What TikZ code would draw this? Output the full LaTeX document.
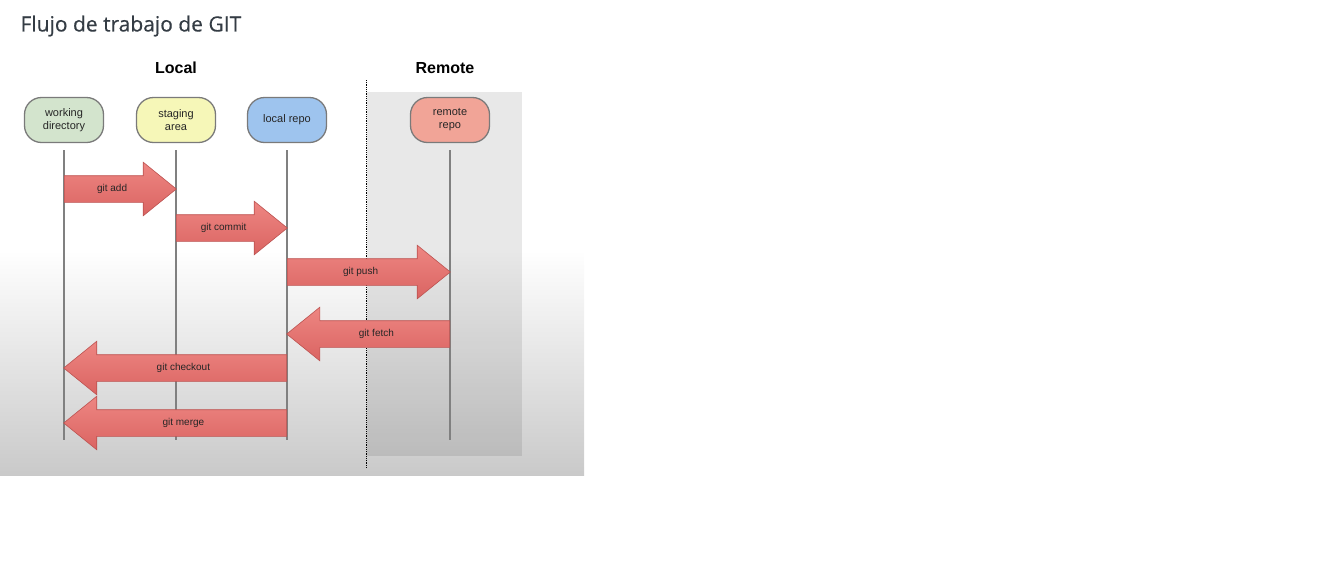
\documentclass[tikz,border=0pt]{standalone}
\usepackage{fontspec}
\setmainfont{Liberation Sans}
\newfontfamily\titlefont[FakeBold=0.4]{Open Sans}
\usepackage{tikz}
\usetikzlibrary{shapes.arrows,calc,positioning}

\definecolor{titlegray}{RGB}{52,60,68}
\definecolor{boxgray}{RGB}{122,122,122}
\definecolor{linegray}{RGB}{128,128,128}
\definecolor{wdgreen}{RGB}{211,228,205}
\definecolor{sayellow}{RGB}{246,247,184}
\definecolor{lrblue}{RGB}{158,196,238}
\definecolor{rrsalmon}{RGB}{241,164,151}
\definecolor{arrowtop}{RGB}{238,134,130}
\definecolor{arrowbot}{RGB}{218,100,98}
\definecolor{arrowborder}{RGB}{188,82,80}

\begin{document}
\begin{tikzpicture}[x=1pt,y=-1pt,
    area/.style={shape=rectangle, rounded corners=17pt, draw=boxgray, line width=1.3pt,
      minimum width=79pt, minimum height=45pt, align=center, inner sep=1pt,
      text=black!85, font=\fontsize{11}{13}\selectfont},
    lifeline/.style={draw=linegray, line width=1.3pt, shorten <=7pt},
    gitarrow/.style={single arrow, draw=arrowborder, line width=0.6pt,
      top color=arrowtop, bottom color=arrowbot,
      single arrow head extend=13.5pt, single arrow tip angle=78,
      text height=7pt, text depth=2pt, inner xsep=0pt, inner ysep=8.5pt,
      text=black!85, font=\fontsize{10}{11}\selectfont},
    back/.style={shape border rotate=180}]
  \useasboundingbox (0,0) rectangle (1341,566);

  % background of the slide
  \shade[top color=white, bottom color=gray!42] (0,250) rectangle (584,475);
  \fill[black, fill opacity=0.09] (367,92) rectangle (522,456);
  \draw[densely dotted, line width=0.8pt] (366,80) -- (366,468);

  \node[anchor=west, text=titlegray, font=\titlefont\fontsize{21}{24}\selectfont] (title) at (17,26) {Flujo de trabajo de GIT};
  \node[font=\bfseries\fontsize{16}{18}\selectfont] (local) at (176,68) {Local};
  \node[font=\bfseries\fontsize{16}{18}\selectfont] (remote) at (445,68) {Remote};

  % the four areas
  \node[area, fill=wdgreen] (wd) at (64,120) {working\\directory};
  \node[area, fill=sayellow] (sa) at (176,120) {staging\\area};
  \node[area, fill=lrblue] (lr) at (287,120) {local repo};
  \node[area, fill=rrsalmon] (rr) at (450,120) {remote\\repo};

  \coordinate (wdend) at (64,440);
  \coordinate (saend) at (176,440);
  \coordinate (lrend) at (287,440);
  \coordinate (rrend) at (450,440);

  \draw[lifeline] (wd.south) -- (wdend);
  \draw[lifeline] (sa.south) -- (saend);
  \draw[lifeline] (lr.south) -- (lrend);
  \draw[lifeline] (rr.south) -- (rrend);

  % commands
  \node[gitarrow, anchor=tail, minimum height=112pt] (add) at (wd |- 0,189) {git add};
  \node[gitarrow, anchor=tail, minimum height=111pt] (commit) at (sa |- 0,228) {git commit};
  \node[gitarrow, anchor=tail, minimum height=163pt] (push) at (lr |- 0,272) {git push};
  \node[gitarrow, back, anchor=tail, minimum height=163pt] (fetch) at (rr |- 0,334) {git fetch};
  \node[gitarrow, back, anchor=tail, minimum height=223pt] (checkout) at (lr |- 0,368) {git checkout};
  \node[gitarrow, back, anchor=tail, minimum height=223pt] (merge) at (lr |- 0,423) {git merge};
\end{tikzpicture}
\end{document}
